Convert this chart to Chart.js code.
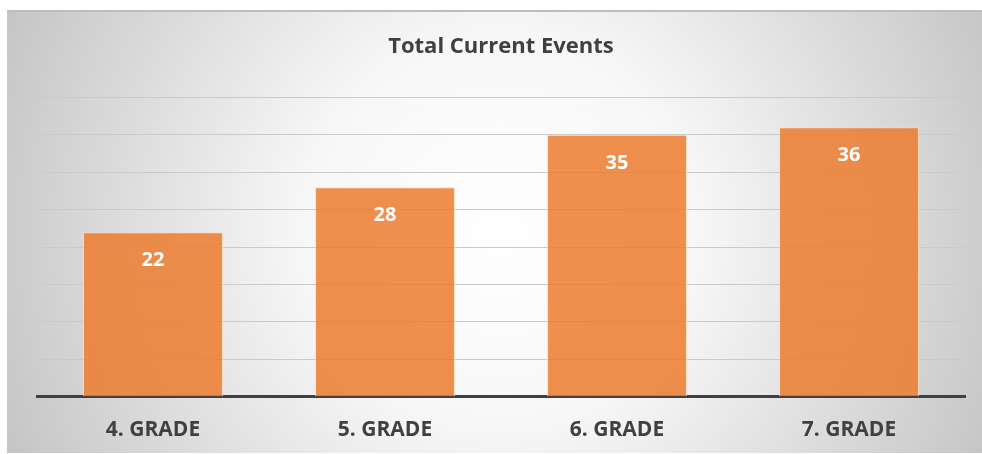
<!DOCTYPE html>
<html><head><meta charset="utf-8">
<script src="https://cdn.jsdelivr.net/npm/chart.js@4/dist/chart.umd.min.js"></script>
<style>html,body{margin:0;padding:0;background:#fff;}#wrap{width:982px;height:454px;}</style>
</head><body><div id="wrap"><canvas id="c" width="982" height="454"></canvas></div>
<script>
const categories = ["4. GRADE", "5. GRADE", "6. GRADE", "7. GRADE"];
const values = [22, 28, 35, 36];
const chartTitle = "Total Current Events";
const yMin = 0, yMax = 40, yStep = 5;

const bgPlugin = {
  id: 'bgPanel',
  beforeDraw(chart) {
    const ctx = chart.ctx;
    const x0 = 7, y0 = 10, x1 = 982, y1 = 453;
    ctx.save();
    const g = ctx.createRadialGradient(500, 230, 0, 500, 230, 560);
    g.addColorStop(0, '#ffffff');
    g.addColorStop(0.35, '#f7f7f7');
    g.addColorStop(1, '#c2c2c2');
    ctx.fillStyle = g;
    ctx.fillRect(x0, y0, x1 - x0, y1 - y0);
    ctx.fillStyle = '#bdbdbd';
    ctx.fillRect(x0, y0, x1 - x0, 2);
    ctx.restore();
  }
};

const labelPlugin = {
  id: 'valueLabels',
  afterDatasetsDraw(chart) {
    const ctx = chart.ctx;
    const meta = chart.getDatasetMeta(0);
    ctx.save();
    ctx.fillStyle = '#ffffff';
    ctx.font = 'bold 20px "Open Sans", sans-serif';
    ctx.textAlign = 'center';
    ctx.textBaseline = 'middle';
    meta.data.forEach((bar, i) => {
      ctx.fillText(String(values[i]), bar.x, bar.y + 28);
    });
    ctx.restore();
  }
};

new Chart(document.getElementById('c'), {
  type: 'bar',
  data: {
    labels: categories,
    datasets: [{
      data: values,
      backgroundColor: 'rgba(236,125,49,0.86)',
      borderColor: 'rgba(255,215,190,0.8)',
      borderWidth: 1,
      categoryPercentage: 1,
      barPercentage: 0.603
    }]
  },
  options: {
    responsive: false,
    maintainAspectRatio: false,
    animation: false,
    layout: { padding: { left: 37, right: 17, top: 0, bottom: -10 } },
    plugins: {
      legend: { display: false },
      tooltip: { enabled: false },
      title: {
        display: true,
        text: chartTitle,
        color: '#404040',
        font: { family: '"Open Sans", sans-serif', size: 22, weight: 'bold' },
        padding: { top: 34, bottom: 37 }
      }
    },
    scales: {
      x: {
        grid: { display: false, drawTicks: false },
        border: { display: true, color: '#404040', width: 3 },
        ticks: {
          color: '#404040',
          padding: 21,
          font: { family: '"Open Sans", sans-serif', size: 21, weight: 'bold' }
        }
      },
      y: {
        min: yMin, max: yMax,
        ticks: { display: false, stepSize: yStep },
        grid: { color: '#cacaca', lineWidth: 1, drawTicks: false },
        border: { display: false }
      }
    }
  },
  plugins: [bgPlugin, labelPlugin]
});
</script>
</body></html>
